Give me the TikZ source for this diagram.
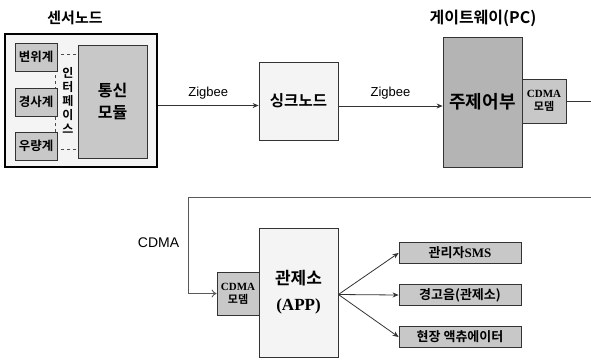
\documentclass[tikz,border=0pt]{standalone}
\usepackage{fontspec}
\setmainfont{Liberation Serif}
\setsansfont{Liberation Sans}
\newfontfamily\kr{Noto Sans CJK KR}[BoldFont={Noto Sans CJK KR Bold}]
\usetikzlibrary{arrows,arrows.meta,positioning}

\definecolor{boxlight}{RGB}{244,244,244}
\definecolor{boxmid}{RGB}{200,200,200}
\definecolor{boxdark}{RGB}{180,180,180}

\begin{document}
\begin{tikzpicture}[x=1pt,y=-1pt]
        \tikzset{blk/.style = {draw=black!80,line width=0.8pt,inner sep=0pt}}
        \tikzset{blk_light/.style = {blk,fill=boxlight}}
        \tikzset{blk_mid/.style = {blk,fill=boxmid}}
        \tikzset{blk_dark/.style = {blk,fill=boxdark}}
        \tikzset{zb_edge/.style = {-{Stealth[length=6pt,width=5pt]},color=black!80,line width=0.8pt}}
        \tikzset{cdma_edge/.style = {-{To[length=5pt,width=8pt]},color=black!65,line width=0.9pt}}
        \tikzset{lbl/.style = {font=\sffamily\fontsize{13}{13}\selectfont,black}}

        \useasboundingbox (0,0) rectangle (591,360);

        % sensor node
        \node[font=\kr\bfseries\fontsize{15}{15}\selectfont] (t_sensor) at (75,18) {센서노드};
        \node[blk_light,line width=1.8pt,draw=black,minimum width=152pt,minimum height=133pt] (sensor) at (81,100.5) {};
        \node[draw=black!70,dashed,line width=0.8pt,minimum width=26pt,minimum height=95pt] (iface) at (68,101.5) {};
        \node[align=center,font=\kr\bfseries\fontsize{12}{14}\selectfont] (iface_t) at (68,100) {인\\터\\페\\이\\스};
        \node[blk_mid,minimum width=42pt,minimum height=28pt,font=\kr\bfseries\fontsize{12.5}{12.5}\selectfont] (s_disp) at (36,57) {변위계};
        \node[blk_mid,minimum width=42pt,minimum height=28pt,font=\kr\bfseries\fontsize{12.5}{12.5}\selectfont] (s_incl) at (36,102) {경사계};
        \node[blk_mid,minimum width=42pt,minimum height=28pt,font=\kr\bfseries\fontsize{12.5}{12.5}\selectfont] (s_rain) at (36,146) {우량계};
        \node[blk_mid,minimum width=69pt,minimum height=113pt,align=center,font=\kr\bfseries\fontsize{16}{22}\selectfont] (comm) at (112.5,101.5) {통신\\모듈};

        % sink node
        \node[blk_light,minimum width=79pt,minimum height=78pt,font=\kr\bfseries\fontsize{15.5}{15.5}\selectfont] (sink) at (298.5,101) {싱크노드};

        % gateway
        \node[font=\kr\bfseries\fontsize{16}{16}\selectfont] (t_gw) at (483,18) {게이트웨이(PC)};
        \node[blk_dark,minimum width=79pt,minimum height=130pt,font=\kr\bfseries\fontsize{18}{18}\selectfont] (mcu) at (482.5,102) {주제어부};
        \node[blk_mid,minimum width=44pt,minimum height=44pt,align=center,font=\rmfamily\bfseries\fontsize{11}{13}\selectfont] (gw_modem) at (544,101) {CDMA\\{\kr 모뎀}};
        \coordinate (gw_out) at (591,101);

        % control center
        \node[blk_mid,minimum width=42pt,minimum height=43pt,align=center,font=\rmfamily\bfseries\fontsize{11}{13}\selectfont] (cc_modem) at (238,293.5) {CDMA\\{\kr 모뎀}};
        \node[blk_light,minimum width=79pt,minimum height=129pt,align=center,font=\rmfamily\bfseries\fontsize{17}{26}\selectfont] (cc) at (298.5,292.5) {{\kr 관제소}\\(APP)};
        \node[blk_mid,minimum width=122pt,minimum height=21pt,font=\kr\bfseries\fontsize{13}{13}\selectfont] (o_sms) at (460,253) {관리자{\rmfamily SMS}};
        \node[blk_mid,minimum width=122pt,minimum height=21pt,font=\kr\bfseries\fontsize{13}{13}\selectfont] (o_alarm) at (460,295) {경고음(관제소)};
        \node[blk_mid,minimum width=122pt,minimum height=21pt,font=\kr\bfseries\fontsize{13}{13}\selectfont] (o_act) at (460,337) {현장 액츄에이터};

        % links
        \coordinate (loop_r) at (591,197);
        \coordinate (loop_l) at (188,197);
        \draw[zb_edge] ([yshift=-5pt]sensor.east) -- node[above=3pt,lbl]{Zigbee} ([yshift=-5pt]sensor.east -| sink.west);
        \draw[zb_edge] ([yshift=-5pt]sink.east) -- node[above=3pt,lbl]{Zigbee} ([yshift=-5pt]sink.east -| mcu.west);
        \draw[color=black!80,line width=0.8pt] (gw_modem.east) -- (gw_out);
        \draw[cdma_edge] (loop_r) -- (loop_l) -- node[left=5pt,pos=0.47,lbl,font=\sffamily\fontsize{14}{14}\selectfont]{CDMA} (loop_l |- cc_modem) -- (cc_modem.west);
        \draw[zb_edge] ([yshift=-2pt]cc.east) -- (o_sms.west);
        \draw[zb_edge] ([yshift=-2pt]cc.east) -- (o_alarm.west);
        \draw[zb_edge] ([yshift=-2pt]cc.east) -- (o_act.west);
    \end{tikzpicture}
\end{document}
